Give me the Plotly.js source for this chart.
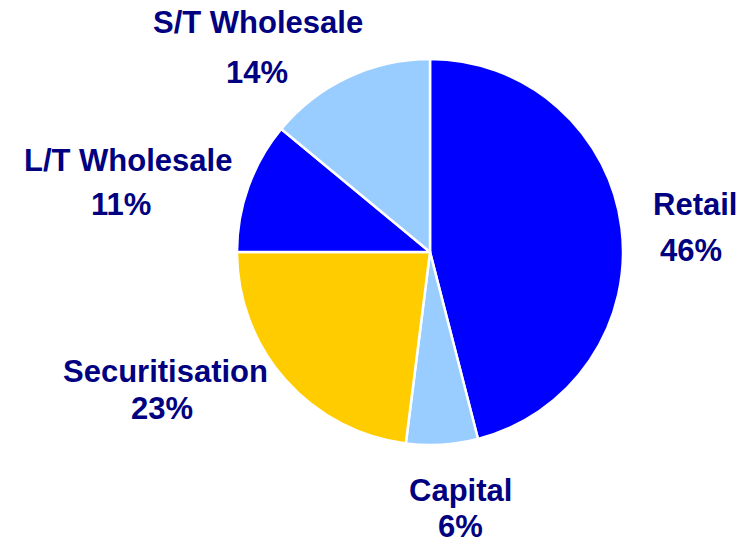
<!DOCTYPE html>
<html>
<head>
<meta charset="utf-8">
<script src="https://cdn.plot.ly/plotly-3.0.1.min.js"></script>
<style>html,body{margin:0;padding:0;background:#fff;}#chart{width:752px;height:545px;}</style>
</head>
<body>
<div id="chart"></div>
<script>
const categories = ["Retail", "Capital", "Securitisation", "L/T Wholesale", "S/T Wholesale"];
const shares = [46, 6, 23, 11, 14];
const sliceColors = ["#0000FF", "#99CCFF", "#FFCC00", "#0000FF", "#99CCFF"];

// label placement (pixels): [nameX, nameY, pctX, pctY]
const labelPos = [
  [695, 204, 691, 250],
  [460, 490, 461, 526],
  [165, 371, 162, 408],
  [128, 160, 121, 205],
  [258, 22, 257, 72]
];

const W = 752, H = 545;
const textFont = {family: "Liberation Sans, Arial, sans-serif", size: 31, color: "#000080", weight: "bold"};

const annotations = [];
categories.forEach((c, i) => {
  const p = labelPos[i];
  annotations.push({xref: "paper", yref: "paper", x: p[0] / W, y: 1 - p[1] / H,
    text: "<b>" + c + "</b>", showarrow: false, xanchor: "center", yanchor: "middle", borderpad: 0, font: textFont});
  annotations.push({xref: "paper", yref: "paper", x: p[2] / W, y: 1 - p[3] / H,
    text: "<b>" + shares[i] + "%</b>", showarrow: false, xanchor: "center", yanchor: "middle", borderpad: 0, font: textFont});
});

const cx = 430, cy = 252, r = 193;
const trace = {
  type: "pie",
  labels: categories,
  values: shares,
  sort: false,
  direction: "clockwise",
  rotation: 0,
  textinfo: "none",
  hoverinfo: "label+percent",
  marker: {colors: sliceColors, line: {color: "#FFFFFF", width: 2.5}},
  domain: {x: [(cx - r) / W, (cx + r) / W], y: [1 - (cy + r) / H, 1 - (cy - r) / H]},
  showlegend: false
};

Plotly.newPlot("chart", [trace], {
  width: W, height: H,
  margin: {l: 0, r: 0, t: 0, b: 0},
  paper_bgcolor: "#FFFFFF",
  showlegend: false,
  annotations: annotations
}, {displayModeBar: false, staticPlot: true});
</script>
</body>
</html>
